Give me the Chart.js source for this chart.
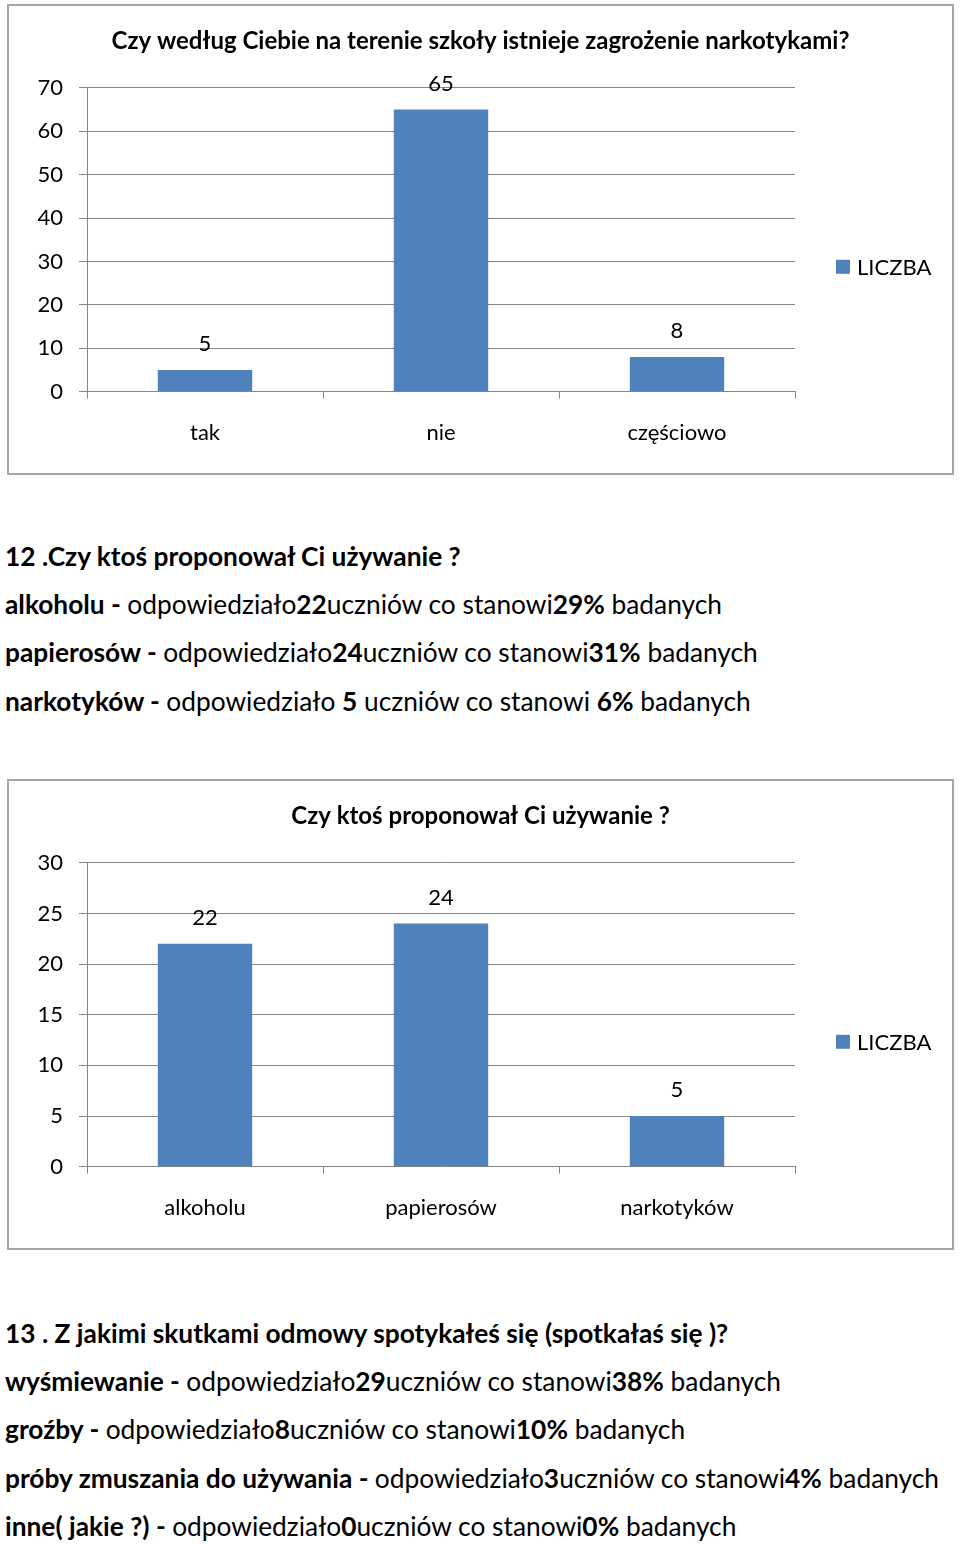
<!DOCTYPE html>
<html><head><meta charset="utf-8">
<script src="https://cdn.jsdelivr.net/npm/chart.js@4"></script>
<style>
body{margin:0;background:#fff;width:960px;height:1544px;position:relative;overflow:hidden;font-family:Lato,sans-serif;}
.frame{position:absolute;left:7px;width:943px;height:467px;border:2px solid #a6a6a6;background:#fff}
.frame canvas{display:block}
.line{position:absolute;left:5px;white-space:nowrap;font-size:26px;line-height:30px;color:#000;transform-origin:0 50%}
.line b{font-weight:700}
</style></head><body>
<div class="frame" style="top:4px"><canvas id="c1" width="943" height="467"></canvas></div>
<div class="frame" style="top:779px"><canvas id="c2" width="943" height="467"></canvas></div>
<div id="text"></div>
<script>
// ---- chart 1 data ----
const categories1 = ['tak', 'nie', 'częściowo'];
const values1 = [5, 65, 8];
const yTicks1 = {max: 70, step: 10};
const title1 = 'Czy według Ciebie na terenie szkoły istnieje zagrożenie narkotykami?';
// ---- chart 2 data ----
const categories2 = ['alkoholu', 'papierosów', 'narkotyków'];
const values2 = [22, 24, 5];
const yTicks2 = {max: 30, step: 5};
const title2 = 'Czy ktoś proponował Ci używanie ?';
const seriesName = 'LICZBA';

// ---- text blocks ([bold, normal] segments) ----
const block1 = [
  [['b','12 .Czy ktoś proponował Ci używanie ?']],
  [['b','alkoholu - '],['n','odpowiedziało'],['b','22'],['n','uczniów co stanowi'],['b','29%'],['n',' badanych']],
  [['b','papierosów - '],['n','odpowiedziało'],['b','24'],['n','uczniów co stanowi'],['b','31%'],['n',' badanych']],
  [['b','narkotyków - '],['n','odpowiedziało '],['b','5'],['n',' uczniów co stanowi '],['b','6%'],['n',' badanych']]
];
const block2 = [
  [['b','13 . Z jakimi skutkami odmowy spotykałeś się (spotkałaś się )?']],
  [['b','wyśmiewanie - '],['n','odpowiedziało'],['b','29'],['n','uczniów co stanowi'],['b','38%'],['n',' badanych']],
  [['b','groźby - '],['n','odpowiedziało'],['b','8'],['n','uczniów co stanowi'],['b','10%'],['n',' badanych']],
  [['b','próby zmuszania do używania - '],['n','odpowiedziało'],['b','3'],['n','uczniów co stanowi'],['b','4%'],['n',' badanych']],
  [['b','inne( jakie ?) - '],['n','odpowiedziało'],['b','0'],['n','uczniów co stanowi'],['b','0%'],['n',' badanych']]
];
const block1Y = [556, 604, 652, 701];
const block2Y = [1333, 1381, 1429, 1478, 1526];

const BAR = '#4f81bd', GRID = '#868686', FONT = 'Lato', FS = 22;

const valueLabels = {
  id: 'valueLabels',
  afterDatasetsDraw(chart) {
    const ctx = chart.ctx;
    const meta = chart.getDatasetMeta(0);
    ctx.save();
    ctx.font = FS + 'px ' + FONT;
    ctx.fillStyle = '#000';
    ctx.textAlign = 'center';
    ctx.textBaseline = 'middle';
    meta.data.forEach((el, i) => {
      ctx.fillText(String(chart.data.datasets[0].data[i]), el.x, el.y - 26);
    });
    ctx.restore();
  }
};
const sideLegend = {
  id: 'sideLegend',
  afterDraw(chart) {
    const ctx = chart.ctx, a = chart.chartArea;
    const ds = chart.data.datasets[0];
    const y = a.top + 0.589 * (a.bottom - a.top);
    const x = a.right + 41;
    ctx.save();
    ctx.fillStyle = ds.backgroundColor;
    ctx.fillRect(x, y - 7, 14, 14);
    ctx.fillStyle = '#000';
    ctx.font = FS + 'px ' + FONT;
    ctx.textAlign = 'left';
    ctx.textBaseline = 'middle';
    ctx.fillText(ds.label, x + 21, y + 1);
    ctx.restore();
  }
};

function makeChart(id, cats, vals, ticks, title) {
  new Chart(document.getElementById(id), {
    type: 'bar',
    data: {labels: cats, datasets: [{label: seriesName, data: vals, backgroundColor: BAR,
      barPercentage: 0.4, categoryPercentage: 1, yAxisID: 'y'}]},
    options: {
      responsive: false, animation: false, events: [],
      layout: {padding: 0},
      plugins: {
        legend: {display: false}, tooltip: {enabled: false},
        title: {display: true, text: title, color: '#000',
          font: {family: FONT, size: 24, weight: 'bold'}, padding: {top: 21, bottom: 32}}
      },
      scales: {
        x: {
          grid: {display: true, drawOnChartArea: false, drawTicks: true, tickLength: 7, color: GRID, offset: true},
          border: {display: true, color: GRID},
          ticks: {color: '#000', font: {family: FONT, size: FS}, padding: 21},
          afterFit(s) { s.height = 81.3; }
        },
        y: {
          min: 0, max: ticks.max,
          grid: {color: GRID, tickLength: 8},
          border: {display: true, color: GRID},
          ticks: {stepSize: ticks.step, color: '#000', font: {family: FONT, size: FS}, padding: 16},
          afterFit(s) { s.width = 78; }
        },
        // empty right-hand box that reserves the legend column
        legendSpace: {
          type: 'linear', position: 'right', display: true,
          grid: {display: false, drawTicks: false}, border: {display: false},
          ticks: {display: false},
          afterFit(s) { s.width = 157; }
        }
      }
    },
    plugins: [valueLabels, sideLegend]
  });
}
makeChart('c1', categories1, values1, yTicks1, title1);
makeChart('c2', categories2, values2, yTicks2, title2);

// text blocks
const host = document.getElementById('text');
const lines = [];
function addBlock(block, ys) {
  block.forEach((segs, i) => {
    const d = document.createElement('div');
    d.className = 'line';
    d.style.top = (ys[i] - 15) + 'px';
    segs.forEach(([k, t]) => {
      const s = document.createElement(k === 'b' ? 'b' : 'span');
      s.textContent = t;
      d.appendChild(s);
    });
    host.appendChild(d);
    lines.push(d);
  });
}
addBlock(block1, block1Y);
addBlock(block2, block2Y);
// uniform horizontal scale so the longest line spans like the original
const longest = lines[7];
const k = 934 / longest.getBoundingClientRect().width;
lines.forEach(d => d.style.transform = 'scaleX(' + k + ')');
</script>
</body></html>
